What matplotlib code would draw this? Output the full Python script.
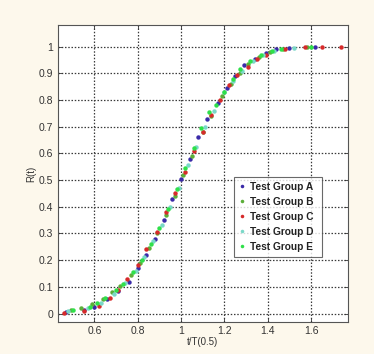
import matplotlib
matplotlib.use("Agg")
import matplotlib.pyplot as plt

plt.rcParams['font.family'] = ['Liberation Sans', 'DejaVu Sans']

# one pair of lists per test group
a_x = [0.47, 0.55, 0.60, 0.66, 0.71, 0.76, 0.80, 0.84, 0.88, 0.92, 0.96, 1.00,
       1.04, 1.08, 1.12, 1.17, 1.21, 1.25, 1.29, 1.34, 1.39, 1.44, 1.50, 1.62]
a_y = [0.004, 0.012, 0.025, 0.055, 0.085, 0.12, 0.17, 0.22, 0.28, 0.35, 0.43, 0.505,
       0.58, 0.66, 0.73, 0.79, 0.845, 0.89, 0.93, 0.955, 0.975, 0.99, 0.997, 1.0]

b_x = [0.49, 0.54, 0.59, 0.64, 0.68, 0.72, 0.77, 0.81, 0.85, 0.89, 0.93, 0.97,
       1.01, 1.05, 1.10, 1.14, 1.19, 1.23, 1.27, 1.31, 1.36, 1.41, 1.47, 1.58]
b_y = [0.012, 0.02, 0.035, 0.055, 0.08, 0.105, 0.145, 0.19, 0.245, 0.30, 0.37, 0.44,
       0.52, 0.59, 0.68, 0.74, 0.815, 0.86, 0.90, 0.935, 0.96, 0.98, 0.993, 1.0]

c_x = [0.46, 0.55, 0.62, 0.67, 0.71, 0.75, 0.80, 0.84, 0.89, 0.93, 0.97, 1.02,
       1.06, 1.10, 1.14, 1.18, 1.22, 1.26, 1.31, 1.35, 1.39, 1.48, 1.57, 1.65, 1.74]
c_y = [0.002, 0.01, 0.03, 0.06, 0.09, 0.13, 0.18, 0.24, 0.305, 0.38, 0.45, 0.53,
       0.61, 0.68, 0.745, 0.80, 0.855, 0.895, 0.925, 0.955, 0.97, 0.99, 0.998, 1.0, 1.0]

d_x = [0.48, 0.57, 0.63, 0.69, 0.74, 0.79, 0.83, 0.87, 0.91, 0.95, 0.99, 1.03,
       1.07, 1.11, 1.15, 1.20, 1.24, 1.28, 1.33, 1.38, 1.43, 1.52]
d_y = [0.008, 0.02, 0.04, 0.075, 0.115, 0.16, 0.21, 0.27, 0.33, 0.40, 0.47, 0.555,
       0.625, 0.70, 0.76, 0.83, 0.87, 0.91, 0.945, 0.97, 0.985, 0.997]

e_x = [0.50, 0.58, 0.61, 0.65, 0.70, 0.73, 0.78, 0.82, 0.86, 0.90, 0.94, 0.98,
       1.02, 1.06, 1.09, 1.13, 1.16, 1.20, 1.24, 1.27, 1.32, 1.37, 1.42, 1.46, 1.60]
e_y = [0.015, 0.025, 0.04, 0.06, 0.09, 0.11, 0.155, 0.20, 0.26, 0.32, 0.39, 0.465,
       0.545, 0.62, 0.695, 0.755, 0.78, 0.83, 0.88, 0.915, 0.945, 0.97, 0.985, 0.99, 1.0]

labels = ["Test Group A", "Test Group B", "Test Group C", "Test Group D", "Test Group E"]
colors = ["#3a2aa8", "#5cae3a", "#d62a2a", "#7ad8c8", "#2fe04a"]

xticks = [0.6, 0.8, 1.0, 1.2, 1.4, 1.6]
xticklabels = ["0.6", "0.8", "1", "1.2", "1.4", "1.6"]
yticks = [0, 0.1, 0.2, 0.3, 0.4, 0.5, 0.6, 0.7, 0.8, 0.9, 1.0]
yticklabels = ["0", "0.1", "0.2", "0.3", "0.4", "0.5", "0.6", "0.7", "0.8", "0.9", "1"]

fig = plt.figure(figsize=(3.74, 3.54), dpi=100, facecolor="#fdf8ec")
ax = fig.add_axes([0.154, 0.091, 0.776, 0.838])
ax.set_facecolor("white")

series = [(a_x, a_y), (b_x, b_y), (c_x, c_y), (d_x, d_y), (e_x, e_y)]
for (xs, ys), lab, col in zip(series, labels, colors):
    ax.plot(xs, ys, linestyle="none", marker="o", markersize=3.2,
            markeredgewidth=0, color=col, label=lab)

ax.set_xlim(0.43, 1.77)
ax.set_ylim(-0.031, 1.081)
ax.set_xticks(xticks)
ax.set_xticklabels(xticklabels)
ax.set_yticks(yticks)
ax.set_yticklabels(yticklabels)
ax.tick_params(direction="in", length=3, width=0.6, labelsize=7.5, colors="#333333",
               top=True, right=True, pad=3)
ax.grid(True, linestyle=(0, (1.2, 1.4)), color="#3a3a3a", linewidth=0.9)
for sp in ax.spines.values():
    sp.set_color("#555555")
    sp.set_linewidth(0.8)

ax.set_xlabel("t/T(0.5)", fontsize=7, color="#333333", labelpad=1)
ax.set_ylabel("R(t)", fontsize=7, color="#333333", labelpad=2)

leg = ax.legend(loc="lower left", bbox_to_anchor=(0.607, 0.218, 0.303, 0.283),
                mode="expand", fontsize=7.3, frameon=True, fancybox=False,
                handlelength=0.6, handletextpad=0.5, borderpad=0.5,
                labelspacing=0.5, markerscale=0.8, borderaxespad=0)
leg.get_frame().set_edgecolor("#444444")
leg.get_frame().set_linewidth(0.8)
for t in leg.get_texts():
    t.set_fontweight("bold")
    t.set_color("#222222")

fig.savefig("out.png", dpi=100, facecolor=fig.get_facecolor())
